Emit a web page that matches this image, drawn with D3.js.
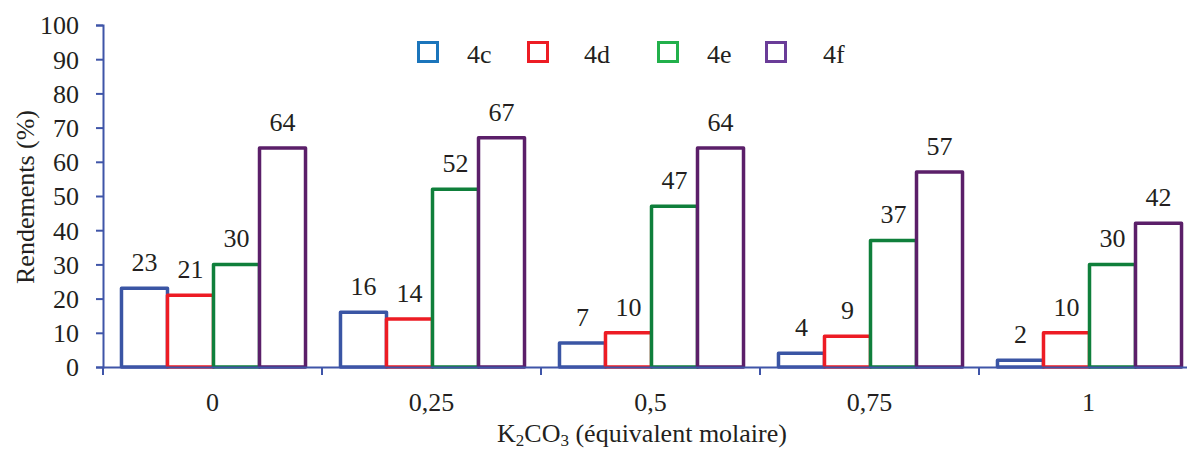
<!DOCTYPE html>
<html><head><meta charset="utf-8">
<script src="https://cdn.jsdelivr.net/npm/d3@7"></script>
<style>
body{margin:0;background:#fff;}
svg{display:block;}
</style></head><body>
<svg id="c" width="1187" height="452"></svg>
<script>
const categories = ["0","0,25","0,5","0,75","1"];
const seriesNames = ["4c","4d","4e","4f"];
const s4c = [23,16,7,4,2];
const s4d = [21,14,10,9,10];
const s4e = [30,52,47,37,30];
const s4f = [64,67,64,57,42];
const yTicks = [0,10,20,30,40,50,60,70,80,90,100];
const barColors = ["#3a55a4","#ed1c24","#0f7f3b","#5b1f69"];
const legendColors = ["#1b75bb","#ed1c24","#22b04b","#6a3c98"];
const allSeries = [s4c,s4d,s4e,s4f];

function pickFont(){
  const cands = ["Liberation Serif","Times New Roman","Tinos","DejaVu Serif","Noto Serif","FreeSerif","Nimbus Roman","Georgia"];
  const ctx = document.createElement("canvas").getContext("2d");
  const s = "Rendements molaire 0123456789 WiMl";
  const base = {};
  ["monospace","sans-serif"].forEach(b=>{ctx.font = "40px " + b; base[b] = ctx.measureText(s).width;});
  for (const c of cands){
    let ok = true;
    for (const b of ["monospace","sans-serif"]){
      ctx.font = `40px "${c}", ${b}`;
      if (Math.abs(ctx.measureText(s).width - base[b]) < 0.5) ok = false;
    }
    if (ok) return `"${c}", serif`;
  }
  return "serif";
}
const FONT = pickFont();
const FS = 26;
const textColor = "#231f20";
const svg = d3.select("#c").style("font-family", FONT);
const x0 = d3.scaleBand().domain(categories).range([103,1198]).paddingInner(0).paddingOuter(0);
const x1 = d3.scaleBand().domain(seriesNames).range([0,x0.bandwidth()]).paddingOuter(0.38).paddingInner(0);
const y = d3.scaleLinear().domain([0,100]).range([367,25]);
const axisColor = "#3f55a8";

// y axis
const yAxis = svg.append("g").attr("transform","translate(103,0)")
  .call(d3.axisLeft(y).tickValues(yTicks).tickSize(7).tickPadding(17));
yAxis.attr("font-family", FONT);
yAxis.select(".domain").attr("stroke",axisColor).attr("stroke-width",2);
yAxis.selectAll(".tick line").attr("stroke",axisColor).attr("stroke-width",2);
yAxis.selectAll(".tick text").attr("font-size",FS).attr("fill",textColor).attr("dy","0.34em");

// bars
categories.forEach((c,i)=>{
  seriesNames.forEach((s,j)=>{
    const v = allSeries[j][i];
    const bx = x0(c)+x1(s);
    svg.append("rect")
      .attr("x",bx+1).attr("y",y(v))
      .attr("width",x1.bandwidth()).attr("height",y(0)-y(v))
      .attr("fill","#fff").attr("stroke",barColors[j]).attr("stroke-width",3.5)
      .attr("stroke-linejoin","round");
    svg.append("text").attr("x",bx+1+x1.bandwidth()/2).attr("y",y(v)-17)
      .attr("text-anchor","middle").attr("font-size",FS).attr("fill",textColor).text(v);
  });
});

// x axis
const xAxis = svg.append("g").attr("transform","translate(0,367)")
  .call(d3.axisBottom(x0).tickSize(0).tickPadding(0));
xAxis.attr("font-family", FONT);
xAxis.select(".domain").attr("stroke",axisColor).attr("stroke-width",2);
xAxis.selectAll(".tick text").attr("font-size",FS).attr("fill",textColor).attr("dy",null).attr("y",44);
const bounds = categories.map(c=>x0(c)).concat([x0.range()[1]]);
svg.append("g").selectAll("line").data(bounds).join("line")
  .attr("x1",d=>d).attr("x2",d=>d).attr("y1",367).attr("y2",375)
  .attr("stroke",axisColor).attr("stroke-width",2);

// axis titles
svg.append("text").attr("transform","translate(34,197) rotate(-90)")
  .attr("text-anchor","middle").attr("font-size",FS).attr("fill",textColor).text("Rendements (%)");
const xt = svg.append("text").attr("x",642).attr("y",442).attr("text-anchor","middle")
  .attr("font-size",FS).attr("fill",textColor);
xt.append("tspan").text("K");
xt.append("tspan").attr("font-size",17).attr("dy",4).text("2");
xt.append("tspan").attr("dy",-4).text("CO");
xt.append("tspan").attr("font-size",17).attr("dy",4).text("3");
xt.append("tspan").attr("dy",-4).text(" (équivalent molaire)");

// legend
const legX = [417,527,657,765];
const legTX = [467,584,707,823];
seriesNames.forEach((s,j)=>{
  svg.append("rect").attr("x",legX[j]+1.5).attr("y",42.5).attr("width",19).attr("height",19)
    .attr("fill","#fff").attr("stroke",legendColors[j]).attr("stroke-width",3);
  svg.append("text").attr("x",legTX[j]).attr("y",63).attr("font-size",FS).attr("fill",textColor).text(s);
});
</script></body></html>
